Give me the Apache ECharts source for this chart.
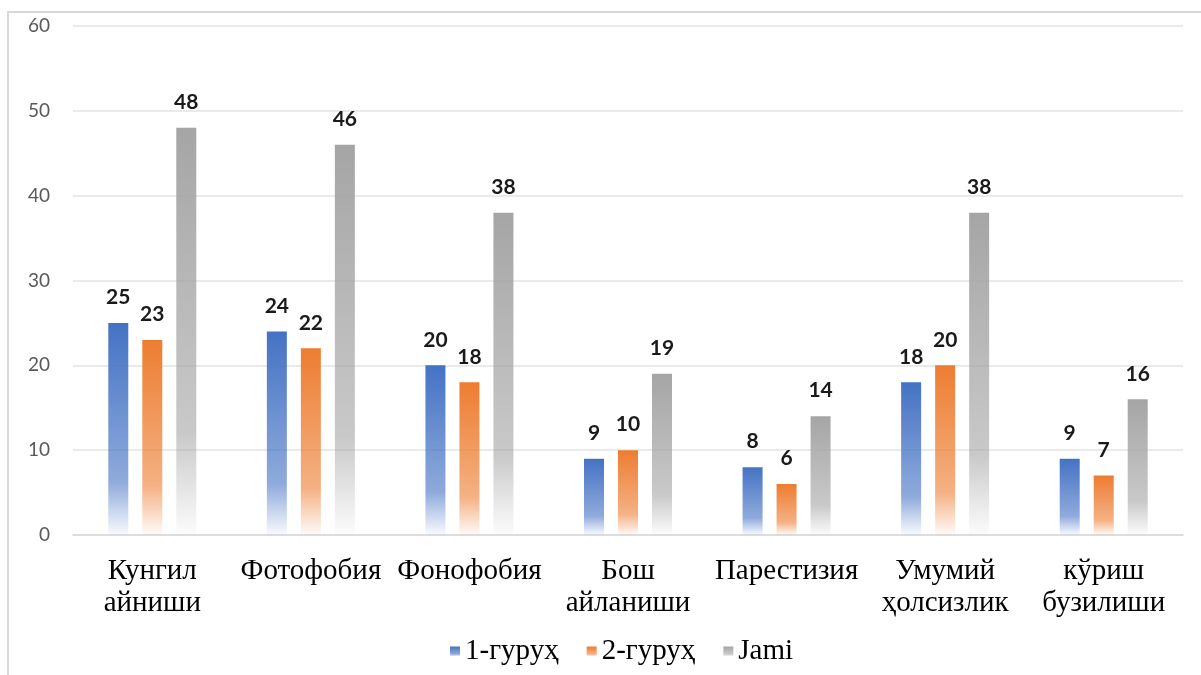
<!DOCTYPE html>
<html>
<head>
<meta charset="utf-8">
<script src="https://cdn.jsdelivr.net/npm/echarts@6/dist/echarts.min.js"></script>
<style>
  html, body { margin: 0; padding: 0; background: #fff; }
  #chart { width: 1201px; height: 675px; }
</style>
</head>
<body>
<div id="chart"></div>
<script>
// categories and values
var categories = ["Кунгил\nайниши", "Фотофобия", "Фонофобия", "Бош\nайланиши", "Парестизия", "Умумий\nҳолсизлик", "кўриш\nбузилиши"];
var group1 = [25, 24, 20, 9, 8, 18, 9];
var group2 = [23, 22, 18, 10, 6, 20, 7];
var jami = [48, 46, 38, 19, 14, 38, 16];
var seriesNames = ["1-гуруҳ", "2-гуруҳ", "Jami"];

function fade(r, g, b) {
  return new echarts.graphic.LinearGradient(0, 0, 0, 1, [
    { offset: 0, color: "rgba(" + r + "," + g + "," + b + ",1)" },
    { offset: 0.75, color: "rgba(" + r + "," + g + "," + b + ",0.6)" },
    { offset: 1, color: "rgba(" + r + "," + g + "," + b + ",0.03)" }
  ]);
}

function makeSeries(name, data, fill) {
  return {
    name: name,
    type: "bar",
    barWidth: 20,
    barGap: "70%",
    data: data,
    itemStyle: { color: fill },
    label: {
      show: true,
      position: "top",
      distance: 15,
      fontFamily: "Lato",
      fontWeight: "bold",
      fontSize: 21,
      color: "#1a1a1a"
    }
  };
}

var myChart = echarts.init(document.getElementById("chart"));
myChart.setOption({
  animation: false,
  graphic: [{
    type: "rect",
    shape: { x: 8, y: 12, width: 1400, height: 900 },
    style: { fill: "none", stroke: "#d9d9d9", lineWidth: 2 },
    silent: true
  }],
  legend: {
    top: 632,
    left: 445,
    itemWidth: 10,
    itemHeight: 10,
    itemGap: 28,
    icon: "rect",
    textStyle: { fontFamily: "Liberation Serif", fontSize: 29, color: "#000" },
    data: seriesNames
  },
  grid: {
    left: 73,
    right: 18,
    top: 26,
    bottom: 140,
    containLabel: false
  },
  xAxis: {
    type: "category",
    data: categories,
    axisLine: { lineStyle: { color: "#d9d9d9", width: 1.5 } },
    axisTick: { show: false },
    axisLabel: {
      interval: 0,
      margin: 20,
      fontFamily: "Liberation Serif",
      fontSize: 29,
      lineHeight: 32,
      color: "#000"
    }
  },
  yAxis: {
    type: "value",
    min: 0,
    max: 60,
    interval: 10,
    axisLine: { show: false },
    axisTick: { show: false },
    splitLine: { lineStyle: { color: "#e3e3e3", width: 1.5 } },
    axisLabel: {
      margin: 23,
      fontFamily: "Lato",
      fontSize: 19,
      color: "#595959"
    }
  },
  series: [
    makeSeries(seriesNames[0], group1, fade(68, 114, 196)),
    makeSeries(seriesNames[1], group2, fade(237, 125, 49)),
    makeSeries(seriesNames[2], jami, fade(165, 165, 165))
  ]
});
</script>
</body>
</html>
